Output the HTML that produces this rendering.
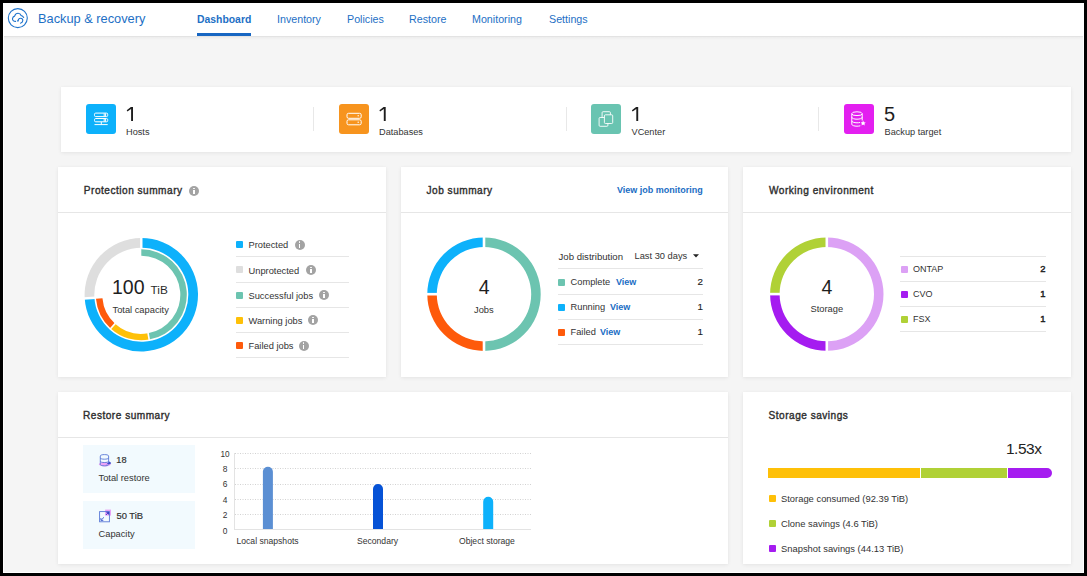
<!DOCTYPE html>
<html><head><meta charset="utf-8">
<style>
*{box-sizing:border-box;margin:0;padding:0}
html,body{width:1087px;height:576px;overflow:hidden;background:#000}
body{position:relative;font-family:"Liberation Sans",sans-serif;color:#2b2b2b}
#frame{position:absolute;left:3px;top:3px;width:1081px;height:570px;background:#fff}
#bg{position:absolute;left:4px;top:37px;width:1079px;height:535px;background:#f5f5f5}
#hdr{position:absolute;left:0;top:0;width:1087px;height:36px}
#hdrline{position:absolute;left:4px;top:36px;width:1079px;height:1px;background:#e3e3e3}
#hdrsh{position:absolute;left:4px;top:37px;width:1079px;height:3px;background:linear-gradient(#ededed,#f5f5f5)}
.t{position:absolute;white-space:nowrap;line-height:1}
.nav{color:#1d6fc5;font-size:10.7px;top:14.4px}
.card{position:absolute;background:#fff;box-shadow:0 1px 4px rgba(0,0,0,0.07),0 0 1px rgba(0,0,0,0.04)}
.ttl{font-weight:400;font-size:10.1px;letter-spacing:0.5px;color:#2e2e2e;-webkit-text-stroke:0.38px #2e2e2e}
.hl{position:absolute;height:1px;background:#e6e6e6}
.sw{position:absolute;width:7px;height:7px;border-radius:1px}
.info{position:absolute;width:10px;height:10px;border-radius:50%;background:#a3a3a3}
.info:before{content:"";position:absolute;left:4.3px;top:1.9px;width:1.5px;height:1.4px;background:#fff;border-radius:1px}
.info:after{content:"";position:absolute;left:4.3px;top:4.1px;width:1.5px;height:4px;background:#fff}
.lg{font-size:9.3px;color:#333}
.val{font-size:9.8px;color:#1e1e1e;font-weight:400;margin-top:-1px;-webkit-text-stroke:0.15px #1e1e1e}
.lnk{color:#1a6dc4;font-weight:700;font-size:9px}
.sic{position:absolute;top:104px;width:30px;height:30px;border-radius:3px}
.sic svg{position:absolute;left:0;top:0}
.num{font-size:20px;color:#1e1e1e;top:104px}
.slb{font-size:9.2px;color:#333;top:128px}
.vd{position:absolute;top:107px;width:1px;height:24px;background:#e8e8e8}
.ax{font-size:8px;color:#333}
.valb{font-size:9.4px;-webkit-text-stroke:0.45px #1e1e1e;margin-top:-0.5px}
</style></head><body>
<div id="frame"></div>
<div id="bg"></div>
<div id="hdrline"></div>
<div id="hdrsh"></div>

<!-- header -->
<svg style="position:absolute;left:0;top:0" width="40" height="36" viewBox="0 0 40 36">
  <circle cx="17.8" cy="18.1" r="9.5" fill="none" stroke="#1f74cc" stroke-width="1.1"/>
  <path d="M15.6 21.4 C13.5 21.4 12.3 20 12.5 18.6 C12.7 17.2 13.8 16.3 14.6 16.1 C15.2 14.3 16.6 13.3 18.1 13.3 C19.6 13.3 20.7 14.3 21.1 15.5 C22.2 15.8 23.2 16.6 23.7 17.5" fill="none" stroke="#1f74cc" stroke-width="1.1" stroke-linecap="round"/>
  <path d="M18.0 20.8 C18.3 19.2 19.4 18.3 20.6 18.3 C21.8 18.3 22.8 19.3 22.8 20.6 C22.8 21.7 21.8 22.8 20.5 23.2" fill="none" stroke="#1f74cc" stroke-width="1.1" stroke-linecap="round"/>
  <path d="M16.9 20.2 L19.0 20.4 L17.9 22.0 Z" fill="#1f74cc"/>
</svg>
<div class="t" style="left:38px;top:13px;font-size:12.8px;color:#1d6fc5">Backup &amp; recovery</div>
<div class="t nav" style="left:197px;top:15px;font-weight:700;font-size:10.4px">Dashboard</div>
<div style="position:absolute;left:197px;top:33px;width:54px;height:3px;background:#1766c2"></div>
<div class="t nav" style="left:277px">Inventory</div>
<div class="t nav" style="left:347px">Policies</div>
<div class="t nav" style="left:409px">Restore</div>
<div class="t nav" style="left:472px">Monitoring</div>
<div class="t nav" style="left:549px">Settings</div>

<!-- stats -->
<div class="card" style="left:61px;top:87px;width:1010px;height:65px"></div>

<div class="sic" style="left:86px;background:#0db1fb"><svg width="30" height="30" viewBox="0 0 30 30" fill="none" stroke="#fff" stroke-width="1">
<rect x="8.5" y="9.1" width="13.2" height="3.5" rx="1.2"/><rect x="8.5" y="14.5" width="13.2" height="3.3" rx="1.2"/>
<path d="M8.5 20.6 H21.7 M15.3 17.8 V20.6 M18.2 9.3 V12.4 M19.6 9.3 V12.4 M18.2 14.7 V17.6 M19.6 14.7 V17.6"/></svg></div>
<svg style="position:absolute;left:0;top:0" width="1087" height="576"><path d="M130.90 106.90 L133.00 106.90 L133.00 121.00 L131.10 121.00 L131.10 109.00 L127.40 111.60 L126.70 110.30 Z" fill="#1e1e1e"/></svg><div class="t slb" style="left:126px">Hosts</div>
<div class="vd" style="left:313px"></div>
<div class="sic" style="left:338.5px;background:#f7941e"><svg width="30" height="30" viewBox="0 0 30 30" fill="none" stroke="#fff" stroke-width="1">
<rect x="8" y="9.3" width="14.2" height="5" rx="1.5"/><rect x="8" y="15.8" width="14.2" height="5" rx="1.5"/>
<circle cx="19.2" cy="11.7" r="0.7" fill="#fff" stroke="none"/><circle cx="19.2" cy="18.2" r="0.7" fill="#fff" stroke="none"/></svg></div>
<svg style="position:absolute;left:0;top:0" width="1087" height="576"><path d="M383.60 106.90 L385.70 106.90 L385.70 121.00 L383.80 121.00 L383.80 109.00 L380.10 111.60 L379.40 110.30 Z" fill="#1e1e1e"/></svg><div class="t slb" style="left:379px">Databases</div>
<div class="vd" style="left:565.5px"></div>
<div class="sic" style="left:591px;background:#69c4b1"><svg width="30" height="30" viewBox="0 0 30 30" fill="none" stroke="#fff" stroke-width="0.9">
<rect x="11.1" y="7.7" width="8.3" height="8.3" rx="1" fill="#69c4b1"/><rect x="8.1" y="13.5" width="8.8" height="8.8" rx="1" fill="#69c4b1"/><rect x="13.4" y="10.8" width="8.3" height="8.7" rx="1" fill="#69c4b1"/></svg></div>
<svg style="position:absolute;left:0;top:0" width="1087" height="576"><path d="M636.10 106.90 L638.20 106.90 L638.20 121.00 L636.30 121.00 L636.30 109.00 L632.60 111.60 L631.90 110.30 Z" fill="#1e1e1e"/></svg><div class="t slb" style="left:631.5px">VCenter</div>
<div class="vd" style="left:818px"></div>
<div class="sic" style="left:844px;background:#e31ff0"><svg width="30" height="30" viewBox="0 0 30 30" fill="none" stroke="#fff" stroke-width="1">
<ellipse cx="13" cy="9.7" rx="5.2" ry="1.9"/><path d="M7.8 9.7 V20.3 C7.8 21.4 10.2 22.2 13 22.2 C14.3 22.2 15.4 22 16.3 21.8 M7.8 13.3 C7.8 14.4 10.2 15.2 13 15.2 C15.8 15.2 18.2 14.4 18.2 13.3 M7.8 16.9 C7.8 18 10.2 18.8 13 18.8 C14.2 18.8 15.2 18.7 16 18.5 M18.2 9.7 V16.5"/>
<path d="M19.1 16.6 L19.9 18.3 L21.7 18.5 L20.4 19.7 L20.8 21.5 L19.1 20.6 L17.5 21.5 L17.9 19.7 L16.6 18.5 L18.4 18.3 Z" fill="#fff" stroke="none"/></svg></div>
<div class="t num" style="left:884px">5</div><div class="t slb" style="left:884.5px">Backup target</div>

<!-- row2 cards -->
<div class="card" style="left:58px;top:167px;width:328px;height:210px"></div>
<div class="card" style="left:401px;top:167px;width:327px;height:210px"></div>
<div class="card" style="left:743px;top:167px;width:328px;height:210px"></div>
<div class="hl" style="left:58px;top:212px;width:328px"></div>
<div class="hl" style="left:401px;top:212px;width:327px"></div>
<div class="hl" style="left:743px;top:212px;width:328px"></div>
<div class="t ttl" style="left:83.8px;top:185.6px">Protection summary</div>
<div class="info" style="left:189px;top:186px"></div>
<div class="t ttl" style="left:426.5px;top:185.6px">Job summary</div>
<div class="t lnk" style="left:617px;top:185.5px;font-size:9px">View job monitoring</div>
<div class="t ttl" style="left:769px;top:185.6px">Working environment</div>
<svg style="position:absolute;left:0;top:0" width="1087" height="576" viewBox="0 0 1087 576"><path d="M141.30 238.10 A56.7 56.7 0 1 1 84.72 298.46 L94.40 297.83 A47.0 47.0 0 1 0 141.30 247.80 Z" fill="#0db1fb"/>
<path d="M84.72 298.46 A56.7 56.7 0 0 1 141.30 238.10 L141.30 247.80 A47.0 47.0 0 0 0 94.40 297.83 Z" fill="#dedede"/>
<line x1="141.30" y1="248.80" x2="141.30" y2="237.10" stroke="#fff" stroke-width="2.4"/>
<line x1="95.40" y1="297.77" x2="83.72" y2="298.52" stroke="#fff" stroke-width="2.4"/>
<path d="M141.30 249.30 A45.5 45.5 0 0 1 149.20 339.61 L148.07 333.21 A39.0 39.0 0 0 0 141.30 255.80 Z" fill="#6cc4b0"/>
<path d="M149.20 339.61 A45.5 45.5 0 0 1 110.68 328.45 L115.05 323.65 A39.0 39.0 0 0 0 148.07 333.21 Z" fill="#fec008"/>
<path d="M110.68 328.45 A45.5 45.5 0 0 1 95.97 298.77 L102.45 298.20 A39.0 39.0 0 0 0 115.05 323.65 Z" fill="#fe5a0b"/>
<line x1="147.90" y1="332.22" x2="149.37" y2="340.59" stroke="#fff" stroke-width="1.6"/>
<line x1="115.73" y1="322.91" x2="110.00" y2="329.19" stroke="#fff" stroke-width="1.6"/>
<path d="M484.00 237.50 A56.7 56.7 0 0 1 484.00 350.90 L484.00 341.40 A47.2 47.2 0 0 0 484.00 247.00 Z" fill="#6cc4b0"/>
<path d="M484.00 350.90 A56.7 56.7 0 0 1 427.30 294.20 L436.80 294.20 A47.2 47.2 0 0 0 484.00 341.40 Z" fill="#fe5a0b"/>
<path d="M427.30 294.20 A56.7 56.7 0 0 1 484.00 237.50 L484.00 247.00 A47.2 47.2 0 0 0 436.80 294.20 Z" fill="#0db1fb"/>
<line x1="484.00" y1="248.00" x2="484.00" y2="236.50" stroke="#fff" stroke-width="2.6"/>
<line x1="484.00" y1="340.40" x2="484.00" y2="351.90" stroke="#fff" stroke-width="2.6"/>
<line x1="437.80" y1="294.20" x2="426.30" y2="294.20" stroke="#fff" stroke-width="2.6"/>
<path d="M826.80 237.40 A56.7 56.7 0 0 1 826.80 350.80 L826.80 341.30 A47.2 47.2 0 0 0 826.80 246.90 Z" fill="#dca1f5"/>
<path d="M826.80 350.80 A56.7 56.7 0 0 1 770.10 294.10 L779.60 294.10 A47.2 47.2 0 0 0 826.80 341.30 Z" fill="#a51cf0"/>
<path d="M770.10 294.10 A56.7 56.7 0 0 1 826.80 237.40 L826.80 246.90 A47.2 47.2 0 0 0 779.60 294.10 Z" fill="#b0d136"/>
<line x1="826.80" y1="247.90" x2="826.80" y2="236.40" stroke="#fff" stroke-width="2.6"/>
<line x1="826.80" y1="340.30" x2="826.80" y2="351.80" stroke="#fff" stroke-width="2.6"/>
<line x1="780.60" y1="294.10" x2="769.10" y2="294.10" stroke="#fff" stroke-width="2.6"/></svg>

<!-- protection center -->
<div class="t" style="left:112px;top:277.5px;font-size:19.5px;color:#1e1e1e">100</div>
<div class="t" style="left:150.5px;top:284.5px;font-size:11.8px;color:#2a2a2a">TiB</div>
<div class="t lg" style="left:112.5px;top:305.5px">Total capacity</div>
<!-- protection legend -->
<div class="sw" style="left:236px;top:241px;background:#0db1fb"></div><div class="t lg" style="left:248.5px;top:241px">Protected</div><div class="info" style="left:294.5px;top:239.5px"></div>
<div class="hl" style="left:236px;top:256px;width:113px"></div>
<div class="sw" style="left:236px;top:266px;background:#dedede"></div><div class="t lg" style="left:248.5px;top:266.5px">Unprotected</div><div class="info" style="left:306px;top:265px"></div>
<div class="hl" style="left:236px;top:282px;width:113px"></div>
<div class="sw" style="left:236px;top:291.5px;background:#6cc4b0"></div><div class="t lg" style="left:248.5px;top:291.5px">Successful jobs</div><div class="info" style="left:319px;top:290px"></div>
<div class="hl" style="left:236px;top:307px;width:113px"></div>
<div class="sw" style="left:236px;top:316.5px;background:#fec008"></div><div class="t lg" style="left:248.5px;top:316.5px">Warning jobs</div><div class="info" style="left:308px;top:315px"></div>
<div class="hl" style="left:236px;top:332px;width:113px"></div>
<div class="sw" style="left:236px;top:342px;background:#fe5a0b"></div><div class="t lg" style="left:248.5px;top:342px">Failed jobs</div><div class="info" style="left:298.5px;top:340.5px"></div>
<div class="hl" style="left:236px;top:357px;width:113px"></div>
<!-- job center -->
<div class="t" style="left:478.7px;top:278px;font-size:19.5px;color:#1e1e1e">4</div>
<div class="t lg" style="left:474px;top:305.5px">Jobs</div>
<!-- job legend -->
<div class="t lg" style="left:558.5px;top:252px;font-size:9.6px">Job distribution</div>
<div class="t lg" style="left:634.5px;top:252px">Last 30 days</div>
<svg style="position:absolute;left:692px;top:253px" width="8" height="6"><path d="M1 1.3 H7 L4 4.5 Z" fill="#222"/></svg>
<div class="hl" style="left:558px;top:268px;width:145px"></div>
<div class="sw" style="left:557.5px;top:278.5px;background:#6cc4b0"></div><div class="t lg" style="left:570.5px;top:277.5px">Complete</div><div class="t lnk" style="left:616px;top:277.5px">View</div><div class="t val" style="right:384px;top:277.5px">2</div>
<div class="hl" style="left:558px;top:293.5px;width:145px"></div>
<div class="sw" style="left:557.5px;top:303.5px;background:#0db1fb"></div><div class="t lg" style="left:570.5px;top:302.5px">Running</div><div class="t lnk" style="left:610px;top:302.5px">View</div><div class="t val" style="right:384px;top:302.5px">1</div>
<div class="hl" style="left:558px;top:319px;width:145px"></div>
<div class="sw" style="left:557.5px;top:328.5px;background:#fe5a0b"></div><div class="t lg" style="left:570.5px;top:327.5px">Failed</div><div class="t lnk" style="left:600px;top:327.5px">View</div><div class="t val" style="right:384px;top:327.5px">1</div>
<div class="hl" style="left:558px;top:344px;width:145px"></div>
<!-- working center -->
<div class="t" style="left:821.5px;top:277.5px;font-size:19.5px;color:#1e1e1e">4</div>
<div class="t lg" style="left:810.5px;top:305px">Storage</div>
<!-- working legend -->
<div class="hl" style="left:900px;top:256px;width:146px"></div>
<div class="sw" style="left:900.5px;top:265.5px;background:#dca1f5"></div><div class="t lg" style="left:913px;top:264.5px;font-size:9px">ONTAP</div><div class="t val valb" style="right:41.5px;top:264.5px">2</div>
<div class="hl" style="left:900px;top:281px;width:146px"></div>
<div class="sw" style="left:900.5px;top:290.5px;background:#a51cf0"></div><div class="t lg" style="left:913px;top:289.5px;font-size:9px">CVO</div><div class="t val valb" style="right:41.5px;top:289.5px">1</div>
<div class="hl" style="left:900px;top:306px;width:146px"></div>
<div class="sw" style="left:900.5px;top:315.5px;background:#b0d136"></div><div class="t lg" style="left:913px;top:314.5px;font-size:9px">FSX</div><div class="t val valb" style="right:41.5px;top:314.5px">1</div>
<div class="hl" style="left:900px;top:331px;width:146px"></div>

<!-- row3 -->
<div class="card" style="left:58px;top:392px;width:670px;height:172px"></div>
<div class="card" style="left:743px;top:392px;width:328px;height:172px"></div>
<div class="hl" style="left:58px;top:437px;width:670px"></div>
<div class="t ttl" style="left:83px;top:411.2px">Restore summary</div>
<div class="t ttl" style="left:768.5px;top:411.2px">Storage savings</div>
<div style="position:absolute;left:83px;top:445px;width:112px;height:48px;background:#f2fafe"></div>
<div style="position:absolute;left:83px;top:501px;width:112px;height:48px;background:#f2fafe"></div>
<svg style="position:absolute;left:96px;top:452px" width="18" height="18" viewBox="0 0 18 18">
 <ellipse cx="8.8" cy="12.2" rx="6" ry="2.2" fill="#eaa3f6"/>
 <path d="M4.3 4.0 C4.3 3.0 6.3 2.6 8.4 2.6 C10.5 2.6 12.6 3.0 12.6 4.0 V12.5 C12.6 13.4 10.5 13.8 8.4 13.8 C6.3 13.8 4.3 13.4 4.3 12.5 Z M4.3 5.9 C4.3 6.8 6.3 7.2 8.4 7.2 C10.5 7.2 12.6 6.8 12.6 5.9 M4.3 9.2 C4.3 10.1 6.3 10.5 8.4 10.5 C10.5 10.5 12.6 10.1 12.6 9.2" fill="none" stroke="#5a78d6" stroke-width="0.9"/>
 <path d="M10.5 13.0 C10.9 11.4 12.1 10.5 13.4 10.4 L13.0 9.3 L15.2 10.9 L13.5 12.6 L13.4 11.6 C12.3 11.6 11.4 12.2 10.5 13.0 Z" fill="#1a2fc2"/>
</svg>
<div class="t" style="left:116.3px;top:456.4px;font-size:9.2px;font-weight:400;color:#333;-webkit-text-stroke:0.2px #333">18</div>
<div class="t lg" style="left:98.5px;top:474.2px">Total restore</div>
<svg style="position:absolute;left:96px;top:507px" width="18" height="18" viewBox="0 0 18 18">
 <rect x="9.1" y="2.6" width="5.9" height="6" fill="#e7a2f6"/>
 <rect x="3.6" y="4.6" width="9.8" height="10.2" fill="none" stroke="#5a78d6" stroke-width="0.9"/>
 <path d="M10.4 5.3 L12.6 5.3 L12.6 7.5 M12.4 5.5 L10 7.9" fill="none" stroke="#1b2fc0" stroke-width="0.9"/>
 <path d="M4.9 11.0 L4.9 13.4 L7.3 13.4 M5.1 13.2 L8.0 10.3" fill="none" stroke="#4d6bd4" stroke-width="1"/>
</svg>
<div class="t" style="left:116.5px;top:510.9px;font-size:9.4px;font-weight:400;color:#333;-webkit-text-stroke:0.2px #333">50 TiB</div>
<div class="t lg" style="left:98.5px;top:529.7px">Capacity</div>
<svg style="position:absolute;left:0;top:0" width="1087" height="576" viewBox="0 0 1087 576">
<line x1="235" y1="453.5" x2="531" y2="453.5" stroke="#d2d2d2" stroke-width="1" stroke-dasharray="1 1.5"/>
<line x1="235" y1="468.5" x2="531" y2="468.5" stroke="#d2d2d2" stroke-width="1" stroke-dasharray="1 1.5"/>
<line x1="235" y1="484.5" x2="531" y2="484.5" stroke="#d2d2d2" stroke-width="1" stroke-dasharray="1 1.5"/>
<line x1="235" y1="499.5" x2="531" y2="499.5" stroke="#d2d2d2" stroke-width="1" stroke-dasharray="1 1.5"/>
<line x1="235" y1="514.5" x2="531" y2="514.5" stroke="#d2d2d2" stroke-width="1" stroke-dasharray="1 1.5"/>
<line x1="234.5" y1="453" x2="234.5" y2="530" stroke="#e3e3e3" stroke-width="1"/>
<line x1="234" y1="529.5" x2="531" y2="529.5" stroke="#e3e3e3" stroke-width="1"/>
<path d="M262.9 529 V471.8 A5 5 0 0 1 272.9 471.8 V529 Z" fill="#5b8fd3"/>
<path d="M373 529 V489 A5 5 0 0 1 383 489 V529 Z" fill="#0652d6"/>
<path d="M483.2 529 V501.8 A5 5 0 0 1 493.2 501.8 V529 Z" fill="#0db1fb"/>
</svg>
<div class="t ax" style="right:857.5px;top:450.9px;font-size:8.2px">10</div>
<div class="t ax" style="right:859.5px;top:465px;font-size:8.4px">8</div>
<div class="t ax" style="right:859.5px;top:480.3px;font-size:8.4px">6</div>
<div class="t ax" style="right:859.5px;top:495.6px;font-size:8.4px">4</div>
<div class="t ax" style="right:859.5px;top:510.9px;font-size:8.4px">2</div>
<div class="t ax" style="right:859.5px;top:526.9px;font-size:8.4px">0</div>
<div class="t ax" style="left:236.5px;top:536.5px;font-size:8.6px">Local snapshots</div>
<div class="t ax" style="left:357px;top:536.5px;font-size:8.6px">Secondary</div>
<div class="t ax" style="left:459px;top:536.5px;font-size:8.6px">Object storage</div>
<!-- storage savings -->
<div class="t" style="left:1006px;top:441px;font-size:15.5px;letter-spacing:-0.5px;color:#222">1.53x</div>
<div style="position:absolute;left:768px;top:468px;width:152px;height:10px;background:#fec008"></div>
<div style="position:absolute;left:921px;top:468px;width:86px;height:10px;background:#b0d136"></div>
<div style="position:absolute;left:1008px;top:468px;width:43.5px;height:10px;background:#a51cf0;border-radius:0 5px 5px 0"></div>
<div class="sw" style="left:768.5px;top:494.5px;background:#fec008"></div><div class="t lg" style="left:781px;top:493.5px;font-size:9.4px">Storage consumed (92.39 TiB)</div>
<div class="sw" style="left:768.5px;top:519.5px;background:#b0d136"></div><div class="t lg" style="left:781px;top:518.5px;font-size:9.4px">Clone savings (4.6 TiB)</div>
<div class="sw" style="left:768.5px;top:544.5px;background:#a51cf0"></div><div class="t lg" style="left:781px;top:543.5px;font-size:9.4px">Snapshot savings (44.13 TiB)</div>

</body></html>
